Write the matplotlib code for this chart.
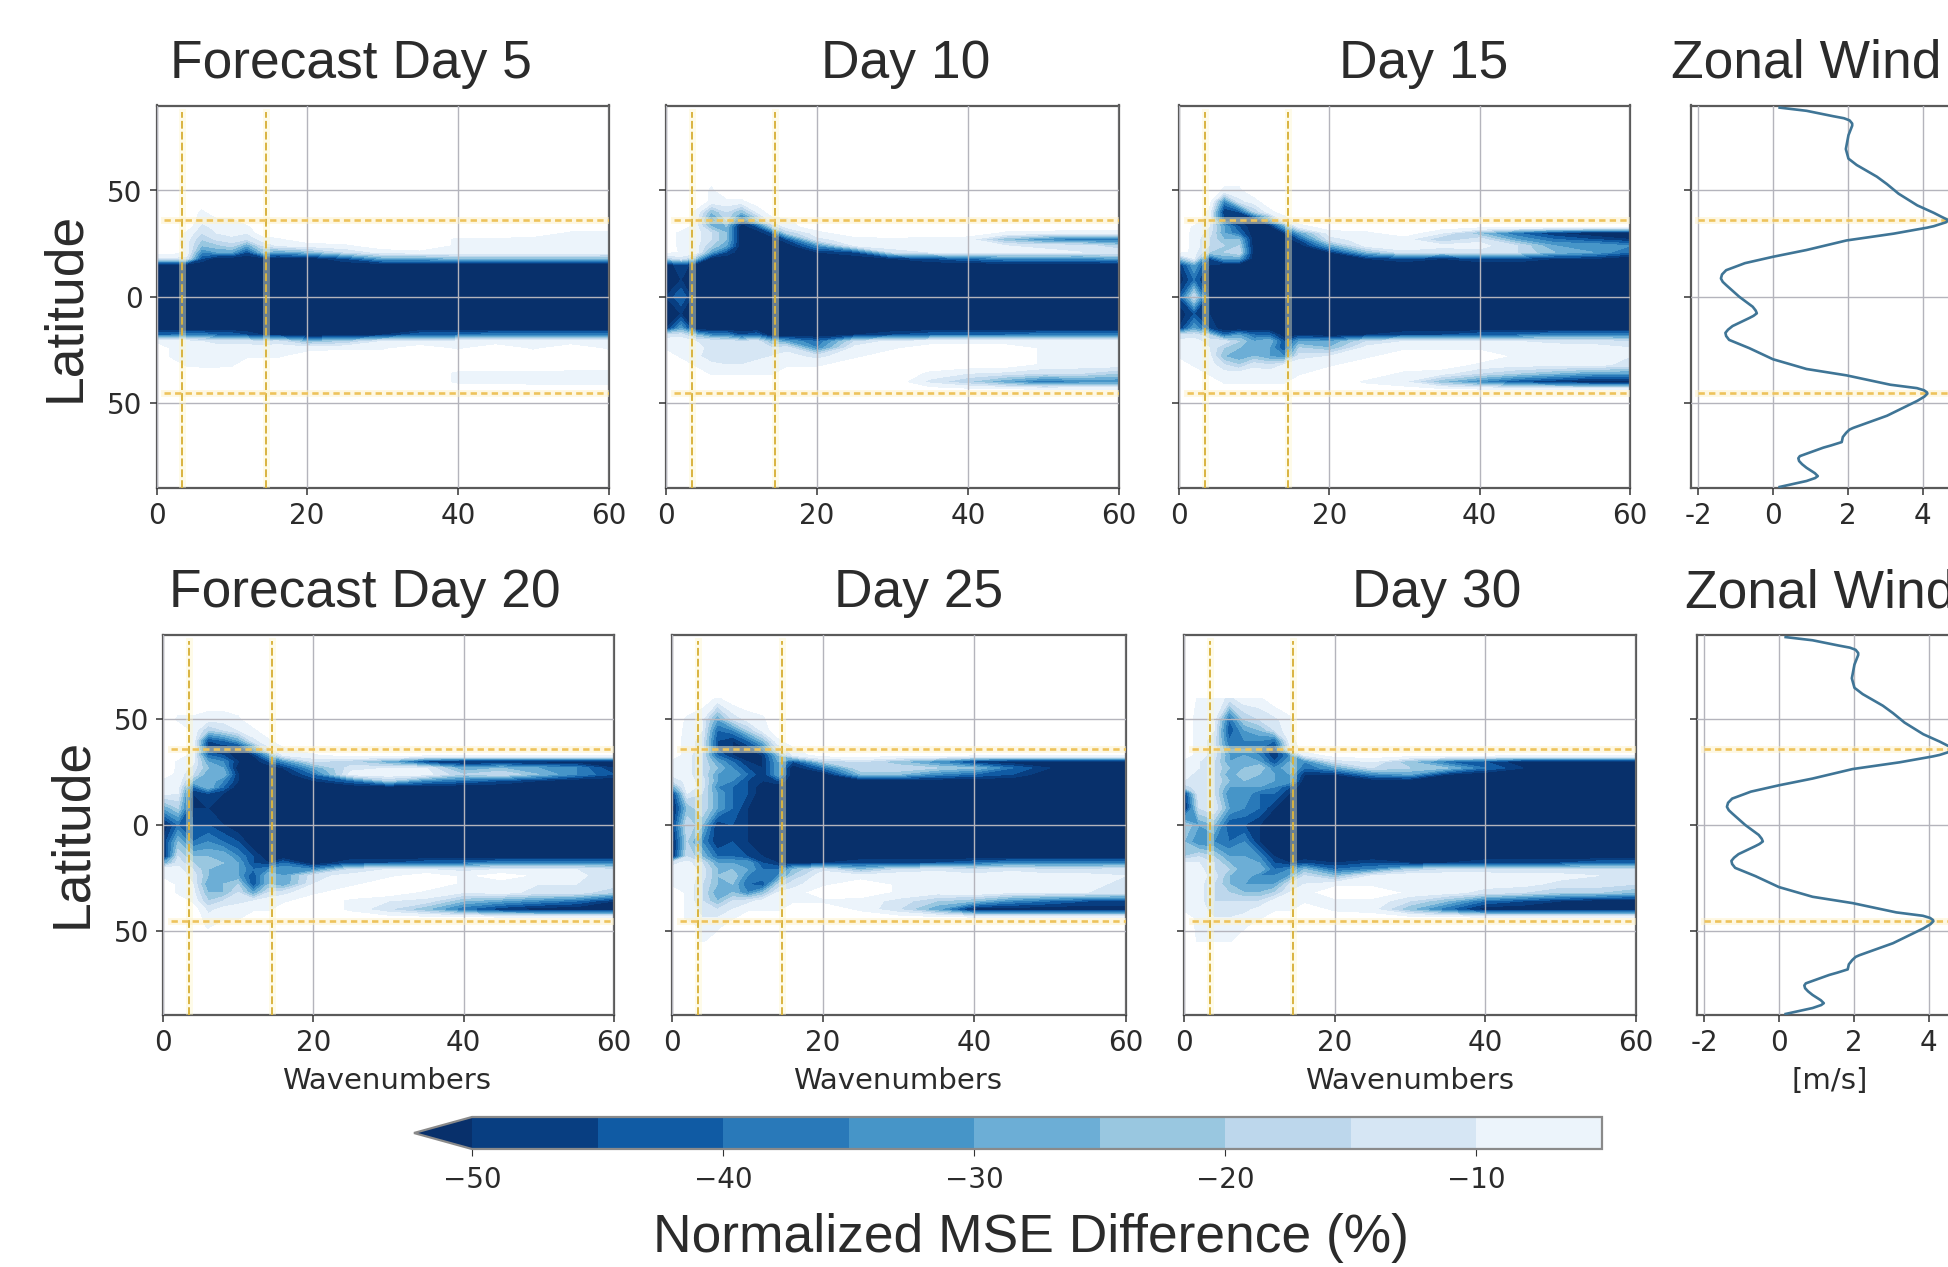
# Normalized MSE difference by wavenumber and latitude, with zonal wind profile
import numpy as np
import matplotlib
matplotlib.use('Agg')
import matplotlib.pyplot as plt

W_PX, H_PX = 1948, 1267

waves = [0, 2, 4, 6, 8, 10, 12, 14, 16, 20, 25, 30, 35, 40, 45, 50, 55, 60]
lats = [60, 50, 45, 40, 36, 33, 30, 27, 24, 21, 18, 15, 8, 0, -8, -15, -18, -21, -24, -28, -32, -36, -40, -44, -48, -55]

day5 = [
    [0,0,0,0,0,0,0,0,0,0,0,0,0,0,0,0,0,0],
    [0,0,0,0,0,0,0,0,0,0,0,0,0,0,0,0,0,0],
    [0,0,0,0,0,0,0,0,0,0,0,0,0,0,0,0,0,0],
    [0,0,0,-6,0,0,0,0,0,0,0,0,0,0,0,0,0,0],
    [0,0,0,-8,-6,-6,0,0,0,0,0,0,0,0,0,0,0,0],
    [0,0,0,-12,-8,-7,-6,0,0,0,0,0,0,0,0,0,0,0],
    [0,0,-6,-15,-10,-8,-10,0,0,0,0,0,0,0,0,0,-6,-6],
    [0,0,-8,-20,-14,-12,-15,-8,-6,0,0,0,0,-6,-6,-7,-7,-8],
    [0,0,-8,-25,-22,-18,-30,-15,-10,-8,-6,0,0,-6,-6,-6,-7,-8],
    [0,0,-6,-35,-30,-30,-45,-25,-30,-25,-15,-8,-6,-6,-6,-6,-6,-7],
    [-12,-12,-12,-45,-55,-55,-55,-55,-55,-55,-45,-30,-30,-25,-25,-25,-25,-25],
    [-55,-55,-55,-55,-55,-55,-55,-55,-55,-55,-55,-55,-55,-55,-55,-55,-55,-55],
    [-55,-55,-55,-55,-55,-55,-55,-55,-55,-55,-55,-55,-55,-55,-55,-55,-55,-55],
    [-55,-55,-55,-55,-55,-55,-55,-55,-55,-55,-55,-55,-55,-55,-55,-55,-55,-55],
    [-55,-55,-55,-55,-55,-55,-55,-55,-55,-55,-55,-55,-55,-55,-55,-55,-55,-55],
    [-55,-55,-55,-55,-55,-55,-55,-55,-55,-55,-55,-55,-55,-55,-55,-55,-55,-55],
    [-40,-40,-35,-35,-40,-40,-45,-50,-50,-55,-55,-50,-40,-40,-35,-35,-35,-35],
    [-6,-8,-8,-10,-12,-12,-12,-15,-12,-25,-20,-10,-10,-8,-8,-8,-8,-8],
    [0,-6,-8,-8,-8,-8,-8,-8,-8,-8,-6,-6,0,-6,0,-6,0,-6],
    [0,-6,-7,-8,-7,-7,-6,-6,-6,0,0,0,0,0,0,0,0,0],
    [0,0,-6,-7,-7,-6,0,0,0,0,0,0,0,0,0,0,0,0],
    [0,0,0,0,0,0,0,0,0,0,0,0,0,-6,-6,-6,-7,-7],
    [0,0,0,0,0,0,0,0,0,0,0,0,0,-6,-6,-7,-8,-8],
    [0,0,0,0,0,0,0,0,0,0,0,0,0,0,0,0,0,0],
    [0,0,0,0,0,0,0,0,0,0,0,0,0,0,0,0,0,0],
    [0,0,0,0,0,0,0,0,0,0,0,0,0,0,0,0,0,0],
]

day10 = [
    [0,0,0,0,0,0,0,0,0,0,0,0,0,0,0,0,0,0],
    [0,0,0,-6,0,0,0,0,0,0,0,0,0,0,0,0,0,0],
    [0,0,0,-6,-6,-6,0,0,0,0,0,0,0,0,0,0,0,0],
    [0,0,-6,-25,-15,-25,-10,0,0,0,0,0,0,0,0,0,0,0],
    [0,0,-8,-35,-20,-45,-25,-8,-6,0,0,0,0,0,0,0,0,0],
    [0,0,-8,-25,-25,-55,-45,-20,-8,0,0,0,0,0,0,0,0,0],
    [0,-7,-8,-15,-25,-55,-55,-45,-20,-7,0,0,0,0,-6,-7,-8,-8],
    [0,-7,-8,-15,-25,-55,-55,-55,-45,-12,-7,-6,-7,-8,-25,-35,-40,-40],
    [0,-7,-8,-20,-30,-55,-55,-55,-55,-35,-10,-6,-6,-7,-10,-12,-12,-20],
    [0,-6,-7,-30,-45,-55,-55,-55,-55,-50,-45,-15,-10,-8,-8,-8,-10,-10],
    [-20,-12,-25,-55,-55,-55,-55,-55,-55,-55,-55,-50,-45,-40,-35,-35,-35,-30],
    [-55,-45,-55,-55,-55,-55,-55,-55,-55,-55,-55,-55,-55,-55,-55,-55,-55,-55],
    [-55,-50,-55,-55,-55,-55,-55,-55,-55,-55,-55,-55,-55,-55,-55,-55,-55,-55],
    [-50,-40,-55,-55,-55,-55,-55,-55,-55,-55,-55,-55,-55,-55,-55,-55,-55,-55],
    [-55,-50,-55,-55,-55,-55,-55,-55,-55,-55,-55,-55,-55,-55,-55,-55,-55,-55],
    [-50,-30,-55,-55,-55,-55,-55,-55,-55,-55,-55,-55,-55,-55,-55,-55,-55,-55],
    [-12,-12,-25,-35,-35,-45,-40,-55,-55,-55,-50,-45,-40,-40,-40,-35,-35,-35],
    [-8,-7,-10,-10,-12,-15,-12,-25,-30,-40,-15,-8,-8,-8,-8,-8,-8,-8],
    [-6,-7,-8,-12,-12,-12,-10,-15,-12,-35,-8,-6,0,0,0,-6,-6,-6],
    [0,-6,-8,-15,-15,-12,-12,-10,-8,-12,-6,0,0,0,0,-6,-7,-7],
    [0,0,-6,-8,-10,-10,-8,-7,-6,-6,0,0,0,0,0,-6,-7,-7],
    [0,0,0,-6,-6,-6,-6,-6,0,0,0,0,-6,-10,-12,-15,-15,-20],
    [0,0,0,0,0,0,0,0,0,0,0,0,-12,-20,-30,-40,-35,-35],
    [0,0,0,0,0,0,0,0,0,0,0,0,0,0,0,0,0,0],
    [0,0,0,0,0,0,0,0,0,0,0,0,0,0,0,0,0,0],
    [0,0,0,0,0,0,0,0,0,0,0,0,0,0,0,0,0,0],
]

day15 = [
    [0,0,0,0,0,0,0,0,0,0,0,0,0,0,0,0,0,0],
    [0,0,0,-6,-6,0,0,0,0,0,0,0,0,0,0,0,0,0],
    [0,0,0,-35,-12,-7,0,0,0,0,0,0,0,0,0,0,0,0],
    [0,0,-6,-50,-45,-20,-7,0,0,0,0,0,0,0,0,0,0,0],
    [0,0,-8,-45,-50,-55,-35,-10,0,0,0,0,0,0,0,0,0,0],
    [0,-6,-10,-30,-45,-55,-55,-30,-8,0,0,0,0,0,0,0,0,0],
    [0,-7,-12,-30,-40,-55,-55,-50,-30,-8,-6,0,-10,-25,-40,-50,-55,-55],
    [0,-7,-15,-25,-25,-55,-55,-55,-45,-12,-8,-8,-20,-12,-30,-40,-45,-50],
    [0,-7,-15,-20,-20,-55,-55,-55,-55,-30,-8,-6,-8,-8,-15,-30,-30,-35],
    [0,-8,-20,-20,-15,-55,-55,-55,-55,-50,-25,-12,-15,-12,-15,-25,-30,-40],
    [-25,-10,-45,-30,-30,-55,-55,-55,-55,-55,-50,-45,-50,-45,-45,-50,-50,-55],
    [-50,-30,-50,-55,-55,-55,-55,-55,-55,-55,-55,-55,-55,-55,-55,-55,-55,-55],
    [-55,-40,-55,-55,-55,-55,-55,-55,-55,-55,-55,-55,-55,-55,-55,-55,-55,-55],
    [-45,-15,-50,-55,-55,-55,-55,-55,-55,-55,-55,-55,-55,-55,-55,-55,-55,-55],
    [-55,-45,-50,-55,-55,-55,-55,-55,-55,-55,-55,-55,-55,-55,-55,-55,-55,-55],
    [-50,-30,-45,-55,-55,-55,-55,-55,-55,-55,-55,-55,-55,-55,-55,-55,-55,-55],
    [-15,-12,-20,-40,-30,-40,-40,-55,-50,-55,-50,-45,-45,-40,-40,-35,-35,-35],
    [-8,-8,-12,-12,-20,-30,-25,-45,-30,-30,-15,-10,-10,-10,-10,-12,-12,-15],
    [-6,-8,-10,-20,-25,-25,-30,-45,-20,-25,-8,-6,-6,-6,-6,-7,-8,-10],
    [-6,-7,-8,-25,-30,-25,-30,-35,-12,-10,-6,0,0,0,-6,-6,-8,-10],
    [0,-6,-7,-15,-20,-12,-15,-10,-7,-6,0,0,0,-6,-8,-8,-8,-12],
    [0,0,-6,-8,-8,-7,-7,-6,-6,0,0,-6,-8,-15,-20,-25,-30,-30],
    [0,0,0,-6,-6,-6,-6,-6,0,0,-6,-10,-25,-35,-45,-50,-55,-55],
    [0,0,0,0,0,0,0,0,0,0,0,0,0,0,0,0,0,0],
    [0,0,0,0,0,0,0,0,0,0,0,0,0,0,0,0,0,0],
    [0,0,0,0,0,0,0,0,0,0,0,0,0,0,0,0,0,0],
]

day20 = [
    [0,0,0,0,0,0,0,0,0,0,0,0,0,0,0,0,0,0],
    [0,-6,-6,-8,-8,-6,0,0,0,0,0,0,0,0,0,0,0,0],
    [0,0,-6,-20,-15,-10,-6,0,0,0,0,0,0,0,0,0,0,0],
    [0,0,-6,-45,-40,-30,-12,-6,0,0,0,0,0,0,0,0,0,0],
    [0,0,-6,-50,-50,-55,-35,-12,-6,0,0,0,0,0,0,0,0,0],
    [0,0,-8,-40,-45,-55,-50,-30,-10,-6,0,0,0,0,0,0,0,0],
    [0,-6,-8,-30,-35,-50,-55,-45,-35,-15,-20,-30,-50,-55,-55,-55,-55,-55],
    [0,-6,-12,-25,-30,-55,-55,-55,-50,-30,-12,-10,-10,-30,-25,-30,-35,-50],
    [0,-7,-15,-30,-25,-50,-55,-55,-55,-40,-8,-6,-8,-20,-15,-25,-35,-45],
    [-6,-6,-25,-25,-35,-50,-55,-55,-55,-50,-40,-20,-35,-40,-45,-50,-55,-55],
    [-6,-8,-40,-25,-40,-55,-55,-55,-55,-55,-55,-55,-55,-55,-55,-55,-55,-55],
    [-8,-10,-50,-45,-50,-55,-55,-55,-55,-55,-55,-55,-55,-55,-55,-55,-55,-55],
    [-30,-20,-50,-50,-55,-55,-55,-55,-55,-55,-55,-55,-55,-55,-55,-55,-55,-55],
    [-55,-40,-45,-45,-50,-55,-55,-55,-55,-55,-55,-55,-55,-55,-55,-55,-55,-55],
    [-50,-25,-40,-35,-40,-45,-55,-55,-55,-55,-55,-55,-55,-55,-55,-55,-55,-55],
    [-55,-15,-25,-25,-25,-35,-45,-55,-55,-55,-55,-55,-55,-55,-55,-55,-55,-55],
    [-30,-12,-20,-20,-25,-30,-45,-50,-40,-55,-45,-45,-40,-40,-35,-35,-35,-35],
    [-6,-8,-15,-25,-25,-30,-40,-35,-30,-35,-15,-10,-10,-12,-10,-10,-10,-15],
    [-6,-7,-12,-25,-25,-30,-45,-25,-30,-12,-8,-6,0,-6,0,-6,-8,-15],
    [0,-6,-10,-30,-25,-20,-45,-25,-30,-10,-6,0,0,-6,-8,-10,-10,-12],
    [0,-6,-8,-25,-25,-15,-30,-15,-12,-6,0,0,-6,-10,-8,-12,-12,-20],
    [0,0,-6,-20,-15,-12,-10,-7,-6,0,-6,-10,-12,-25,-30,-35,-40,-50],
    [0,0,0,-12,-8,-7,-6,-6,0,0,-6,-15,-25,-40,-50,-55,-55,-55],
    [0,0,0,-8,-7,-6,0,0,0,0,0,0,0,0,0,0,0,0],
    [0,0,0,-6,0,0,0,0,0,0,0,0,0,0,0,0,0,0],
    [0,0,0,0,0,0,0,0,0,0,0,0,0,0,0,0,0,0],
]

day25 = [
    [0,0,0,-6,0,0,0,0,0,0,0,0,0,0,0,0,0,0],
    [0,-6,-10,-30,-15,-8,-6,0,0,0,0,0,0,0,0,0,0,0],
    [0,-7,-10,-40,-35,-20,-8,0,0,0,0,0,0,0,0,0,0,0],
    [0,-8,-12,-45,-50,-40,-25,-6,0,0,0,0,0,0,0,0,0,0],
    [0,-8,-12,-45,-50,-50,-40,-15,-6,0,0,0,0,0,0,0,0,0],
    [0,-8,-15,-40,-50,-50,-50,-25,-10,0,0,0,0,0,0,0,0,0],
    [-6,-8,-15,-30,-40,-50,-50,-30,-45,-20,-15,-25,-35,-50,-55,-55,-55,-55],
    [-7,-8,-15,-25,-35,-45,-50,-30,-55,-40,-15,-15,-20,-25,-40,-50,-55,-55],
    [-8,-8,-15,-30,-30,-40,-50,-30,-55,-55,-25,-25,-35,-40,-45,-55,-55,-55],
    [-15,-8,-12,-30,-35,-45,-50,-45,-55,-55,-55,-55,-55,-55,-55,-55,-55,-55],
    [-30,-7,-12,-35,-40,-45,-55,-55,-55,-55,-55,-55,-55,-55,-55,-55,-55,-55],
    [-50,-10,-15,-30,-40,-45,-55,-55,-55,-55,-55,-55,-55,-55,-55,-55,-55,-55],
    [-55,-25,-15,-30,-40,-50,-55,-55,-55,-55,-55,-55,-55,-55,-55,-55,-55,-55],
    [-50,-15,-25,-50,-45,-50,-55,-55,-55,-55,-55,-55,-55,-55,-55,-55,-55,-55],
    [-55,-20,-35,-50,-45,-50,-55,-55,-55,-55,-55,-55,-55,-55,-55,-55,-55,-55],
    [-55,-15,-25,-40,-40,-45,-50,-55,-55,-55,-55,-55,-55,-55,-55,-55,-55,-55],
    [-12,-8,-15,-30,-30,-30,-45,-50,-50,-50,-45,-45,-45,-40,-35,-35,-35,-35],
    [-8,-7,-12,-25,-25,-30,-40,-40,-25,-12,-25,-15,-12,-15,-12,-15,-15,-12],
    [-6,-7,-12,-25,-20,-35,-35,-35,-20,-6,-8,-6,-6,-8,-6,-8,-8,-10],
    [-6,-6,-15,-25,-25,-40,-45,-20,-12,-6,0,-6,-6,-8,-6,-8,-8,-12],
    [0,-6,-15,-30,-25,-35,-25,-10,-8,0,0,-6,-8,-6,-10,-10,-10,-12],
    [0,-6,-15,-25,-15,-12,-8,-7,-6,-6,-7,-12,-20,-25,-35,-40,-45,-45],
    [0,-6,-12,-15,-10,-6,-6,-6,0,0,-6,-15,-30,-55,-55,-55,-55,-55],
    [0,-6,-10,-10,-6,0,0,0,0,0,0,0,0,0,0,0,0,0],
    [0,0,-7,-7,0,0,0,0,0,0,0,0,0,0,0,0,0,0],
    [0,0,-6,0,0,0,0,0,0,0,0,0,0,0,0,0,0,0],
]

day30 = [
    [0,-6,-6,-12,-6,-6,0,0,0,0,0,0,0,0,0,0,0,0],
    [0,-8,-8,-40,-20,-15,-12,-6,0,0,0,0,0,0,0,0,0,0],
    [0,-8,-10,-45,-30,-25,-15,-6,0,0,0,0,0,0,0,0,0,0],
    [0,-8,-12,-40,-35,-35,-40,-8,0,0,0,0,0,0,0,0,0,0],
    [0,-8,-12,-35,-35,-40,-50,-12,0,0,0,0,0,0,0,0,0,0],
    [0,-8,-12,-30,-30,-35,-50,-35,-10,0,0,0,0,0,0,0,0,0],
    [-6,-10,-15,-30,-25,-30,-45,-30,-35,-15,-10,-25,-40,-45,-55,-55,-55,-55],
    [-7,-10,-15,-25,-25,-20,-35,-25,-40,-30,-15,-20,-25,-40,-50,-55,-55,-55],
    [-8,-12,-15,-30,-20,-25,-30,-30,-50,-50,-35,-30,-50,-55,-55,-55,-55,-55],
    [-10,-12,-15,-25,-25,-25,-30,-30,-55,-55,-55,-55,-55,-55,-55,-55,-55,-55],
    [-20,-10,-15,-30,-30,-30,-35,-45,-55,-55,-55,-55,-55,-55,-55,-55,-55,-55],
    [-50,-10,-15,-35,-30,-40,-40,-50,-55,-55,-55,-55,-55,-55,-55,-55,-55,-55],
    [-55,-15,-10,-30,-35,-40,-50,-55,-55,-55,-55,-55,-55,-55,-55,-55,-55,-55],
    [-20,-30,-25,-45,-45,-50,-55,-55,-55,-55,-55,-55,-55,-55,-55,-55,-55,-55],
    [-25,-35,-35,-40,-35,-50,-50,-55,-55,-55,-55,-55,-55,-55,-55,-55,-55,-55],
    [-20,-15,-20,-30,-30,-35,-50,-55,-55,-55,-55,-55,-55,-55,-55,-55,-55,-55],
    [-8,-10,-15,-25,-25,-30,-45,-50,-45,-50,-45,-50,-50,-45,-45,-45,-40,-40],
    [-6,-8,-15,-20,-30,-25,-40,-35,-25,-40,-35,-20,-15,-15,-15,-15,-15,-15],
    [-6,-8,-12,-25,-25,-35,-35,-30,-15,-25,-10,-6,-6,-6,-8,-8,-10,-12],
    [-6,-8,-15,-25,-30,-30,-30,-15,-10,-6,-6,-6,-6,-8,-8,-12,-12,-15],
    [-6,-8,-15,-20,-25,-25,-20,-10,-7,0,0,-6,-8,-12,-15,-20,-20,-25],
    [-6,-8,-15,-15,-15,-15,-8,-7,-6,-6,-6,-15,-25,-40,-45,-50,-55,-55],
    [-6,-8,-12,-12,-12,-8,-6,-6,0,-6,-8,-25,-40,-55,-55,-55,-55,-55],
    [0,-7,-10,-10,-8,-6,0,0,0,0,0,0,0,0,0,0,0,0],
    [0,-7,-8,-8,-6,0,0,0,0,0,0,0,0,0,0,0,0,0],
    [0,-6,-6,-6,0,0,0,0,0,0,0,0,0,0,0,0,0,0],
]

wind_lat = [89, 87.5, 85, 84, 83, 81.5, 80.5, 76, 69.5, 65, 62, 56.5, 53, 48.5, 43, 39.5, 37.7, 36, 35, 33.2, 32.5, 29.7, 26.5, 22,
            18.8, 15.8, 14.8, 12.5, 10.5, 8.6, 7, 5.5, 0, -4.7, -6.5, -7.8, -9, -10, -13.8, -15.5, -17, -18.5, -20.3, -24.2, -29.4, -34, -37, -41.4,
            -43, -44, -45, -45.6, -47, -49, -56, -61.7, -62.5, -64, -66, -68.4, -70, -71, -75, -76, -77.3, -78.8, -80.5, -83, -84.4, -85.3, -86.7, -89.5]
wind_u = [0.18, 0.9, 1.6, 1.9, 2.05, 2.12, 2.12, 2.02, 1.95, 2.02, 2.24, 2.78, 3.05, 3.36, 3.86, 4.3, 4.5, 4.7, 4.62, 4.3, 4.12, 3.23, 1.97, 0.9,
          0, -0.75, -0.9, -1.25, -1.36, -1.39, -1.34, -1.25, -0.9, -0.54, -0.46, -0.43, -0.52, -0.63, -1.08, -1.2, -1.27, -1.25, -1.17, -0.63, 0, 0.9, 1.97, 3.14,
          3.85, 4.04, 4.12, 4.13, 4.05, 3.86, 3.05, 2.15, 2.05, 1.96, 1.87, 1.84, 1.55, 1.35, 0.72, 0.68, 0.7, 0.78, 0.9, 1.12, 1.2, 1.13, 0.9, 0.18]

levels = [-50, -45, -40, -35, -30, -25, -20, -15, -10, -5]
wave_marks = [3.4, 14.5]
lat_marks = [36, -45.5]

TXT = '#2b2b2b'
plt.rcParams['text.color'] = TXT
plt.rcParams['xtick.labelcolor'] = TXT
plt.rcParams['ytick.labelcolor'] = TXT


def box(x0, y0, x1, y1):
    return [x0 / W_PX, 1 - y1 / H_PX, (x1 - x0) / W_PX, (y1 - y0) / H_PX]


def style(ax, xticks):
    ax.set_ylim(-90, 90)
    ax.set_yticks([50, 0, -50])
    ax.set_xticks(xticks)
    ax.set_yticklabels([])
    ax.grid(color='#b4b4bc', lw=1.0)
    ax.set_axisbelow(False)
    ax.tick_params(length=5, width=1.1, color='#333333', labelsize=20, pad=5)
    for s in ax.spines.values():
        s.set_color('#5a5a5a')
        s.set_linewidth(1.6)


def hmark(ax, x0, x1):
    for la in lat_marks:
        ax.plot([x0, x1], [la, la], color='#fdf1c8', lw=5, alpha=0.5, zorder=4.5)
        ax.plot([x0, x1], [la, la], color='#eec35c', lw=1.9, ls=(0, (2.4, 1.6)), zorder=5)


fig = plt.figure(figsize=(W_PX / 100, H_PX / 100), dpi=100)

panels = [
    (day5, (156.5, 105.5, 608.5, 488)), (day10, (666, 105.5, 1119, 488)), (day15, (1179, 105.5, 1630, 488)),
    (day20, (163, 635, 614, 1015)), (day25, (672, 635, 1125.5, 1015)), (day30, (1184, 635, 1636, 1015)),
]
lat_labels = ['50', '0', '50']
for i, (vals, pos) in enumerate(panels):
    ax = fig.add_axes(box(*pos))
    cs = ax.contourf(waves, lats, np.array(vals), levels=levels, cmap='Blues_r', extend='min')
    ax.set_xlim(0, 60)
    style(ax, [0, 20, 40, 60])
    for w in wave_marks:
        ax.plot([w, w], [-90, 87], color='#fdf6c8', lw=5, alpha=0.4, zorder=4.5)
        ax.plot([w, w], [-90, 87], color='#d9b440', lw=1.4, ls=(0, (4, 1.6)), zorder=5)
    hmark(ax, 1, 60)
    if i % 3 == 0:
        ax.set_yticklabels(lat_labels)

wind_pos = [(1691, 105.5, 1980, 488), (1697, 635, 1990, 1015)]
for pos in wind_pos:
    ax = fig.add_axes(box(*pos))
    x_left = -2.19
    ax.set_xlim(x_left, x_left + (pos[2] - pos[0]) / 37.4)
    style(ax, [-2, 0, 2, 4])
    ax.set_xticklabels(['-2', '0', '2', '4'])
    ax.plot(wind_u, wind_lat, color='#3f7596', lw=1.9, zorder=6, solid_joinstyle='round')
    hmark(ax, -2, 6)

cax = fig.add_axes(box(414, 1117, 1602, 1149))
cb = fig.colorbar(cs, cax=cax, orientation='horizontal', extendfrac=58 / 1130)
cb.set_ticks([-50, -40, -30, -20, -10])
cb.ax.tick_params(labelsize=20, length=5, color='#333333', pad=7)
cb.outline.set_edgecolor('#8a8a8a')
cb.outline.set_linewidth(1.6)


def label(x, y, s, **kw):
    kw.setdefault('ha', 'center')
    kw.setdefault('va', 'center')
    fig.text(x / W_PX, 1 - y / H_PX, s, **kw)


head = dict(family='Liberation Sans', fontsize=38.4)
label(170, 64, 'Forecast Day 5', ha='left', **head)
label(906, 64, 'Day 10', **head)
label(1424, 64, 'Day 15', **head)
label(1671, 64, 'Zonal Wind', ha='left', **head)
label(169, 593, 'Forecast Day 20', ha='left', **head)
label(919, 593, 'Day 25', **head)
label(1437, 593, 'Day 30', **head)
label(1685, 593, 'Zonal Wind', ha='left', **head)
label(65, 307, 'Latitude', rotation=90, **head)
label(72, 833, 'Latitude', rotation=90, **head)
label(387, 1081, 'Wavenumbers', fontsize=21)
label(898, 1081, 'Wavenumbers', fontsize=21)
label(1410, 1081, 'Wavenumbers', fontsize=21)
label(1830, 1081, '[m/s]', fontsize=21)
label(1031, 1238, 'Normalized MSE Difference (%)', **head)

fig.savefig('out.png', dpi=100)
